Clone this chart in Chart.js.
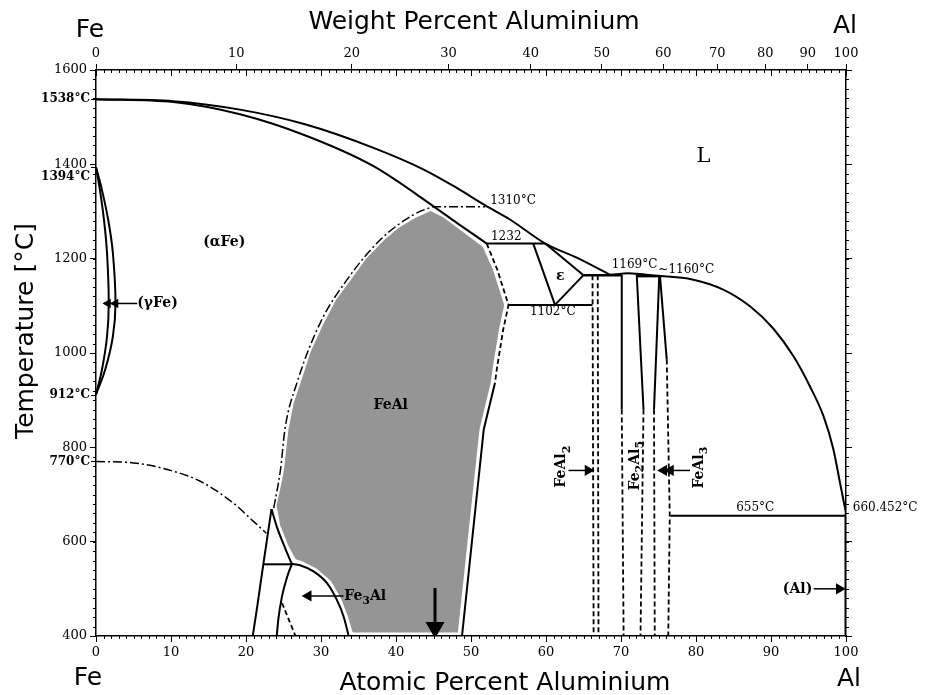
<!DOCTYPE html>
<html>
<head>
<meta charset="utf-8">
<title>Fe-Al phase diagram</title>
<script src="https://cdn.jsdelivr.net/npm/chart.js@4.4.1/dist/chart.umd.min.js"></script>
<style>
  html, body { margin: 0; padding: 0; background: #fff; }
</style>
</head>
<body>
<canvas id="phaseChart" width="925" height="695"></canvas>
<script>
// all curves: [atomic % Al, temperature degC]
const liquidusLeft = [[0,1538],[10.3,1534],[19.2,1516],[28.1,1484],[37,1435],[43.7,1389],[48.1,1350],[51.9,1313],[55.2,1283],[59.9,1232],[64.1,1202],[68.5,1166]];
const liquidusRight = [[68.5,1166],[70.1,1168],[71,1169],[72.1,1168],[75.2,1163],[79.2,1157],[83.7,1134],[87.2,1099],[90.3,1052],[93,993],[95.2,929],[97,866],[98.3,797],[99.2,725],[100,660.452]];
const solidusFe = [[0,1538],[10.3,1532],[19.2,1506],[28.1,1460],[37,1396],[45,1311],[48.1,1276],[52.1,1232]];

const gammaOuter = [[0,1394],[0.67,1354],[1.62,1283],[2.25,1212],[2.6,1106],[2.25,1035],[1.23,965],[0,912]];
const gammaInner = [[0,1394],[0.44,1354],[1.06,1283],[1.47,1212],[1.7,1106],[1.47,1035],[0.8,965],[0,912]];
const curieLine = [[0,770],[5,767],[9.5,753],[13.9,728],[18.3,682],[21,643],[22.7,618]];

const orderB2 = [[23.7,671],[24.6,753],[25.2,839],[26.8,937],[29.9,1064],[33.5,1156],[37.9,1240],[42.3,1293],[44.8,1310]];
const line1310 = [[44.8,1310],[51.9,1310]];
const feAlRightDashed = [[52.1,1232],[53.5,1177],[55,1102],[54.3,1050],[53.5,972],[53.2,937]];
const feAlRightSolid = [[53.2,937],[51.7,838],[48.8,400]];
const feAlField = [[44.6,1304],[46.5,1289],[48.1,1270],[51.7,1227],[53.1,1177],[54.6,1102],[53.9,1050],[53.1,972],[52.8,937],[51.3,838],[48.4,405],[34.1,405],[33.4,442],[32.5,479],[31.2,515],[29.3,541],[27.4,556],[26.5,561],[25.5,590],[24.4,634],[23.9,676],[24.5,720],[24.9,753],[25.5,839],[26.2,895],[27.1,937],[28.5,1005],[30.2,1064],[31.9,1115],[33.8,1156],[35.8,1200],[38.2,1240],[40.3,1268],[42.4,1288],[44.6,1304]];

const d03Left = [[20.9,400],[21.5,463],[22.3,551],[23.4,669]];
const d03Apex = [[23.4,669],[24.1,632],[25.2,587],[26.1,553]];
const line552 = [[22.3,552],[26.1,552]];
const d03Inner = [[24.1,400],[24.3,434],[24.8,484],[25.5,526],[26.1,552]];
const d03B2 = [[26.1,553],[27.2,550],[29,537],[30.8,512],[32.1,477],[33,442],[33.7,400]];
const d03Dash = [[24.8,470],[26.6,400]];

const line1232 = [[52.1,1232],[59.9,1232]];
const line1102 = [[55,1102],[66.2,1102]];
const epsLeft = [[58.3,1232],[61.2,1102]];
const epsLower = [[61.2,1102],[65,1165]];
const epsUpper = [[59.9,1232],[65,1165]];
const eutectic1165 = [[65,1165],[70.1,1165]];
const peritectic1160 = [[72.1,1163],[75.2,1163]];
const line655 = [[76.6,655],[100,655]];
const alSolvus = [[100,660.452],[100,400]];

const feAl2Left = [[66.2,1165],[66.35,400]];
const feAl2Right = [[66.9,1165],[67,400]];
const fe2Al5LeftSolid = [[70.1,1166],[70.1,880]];
const fe2Al5LeftDash = [[70.1,880],[70.35,400]];
const fe2Al5RightSolid = [[72.1,1166],[73,880]];
const fe2Al5RightDash = [[73,880],[72.6,400]];
const feAl3LeftSolid = [[75.1,1163],[74.4,880]];
const feAl3LeftDash = [[74.4,880],[74.5,400]];
const feAl3RightSolid = [[75.2,1163],[76.1,986]];
const feAl3RightDash = [[76.1,986],[76.5,655],[76.3,400]];

// pointer arrows, head on the last point
const arrowGamma = [[5.5,1105],[2.6,1105],[1.6,1105]];
const arrowFe3Al = [[33,485],[28.3,485]];
const arrowDown = [[45.2,502],[45.2,418]];
const arrowFeAl2 = [[63,751],[65.6,751]];
const arrowFeAl3 = [[79.2,751],[76.6,751],[75.7,751]];
const arrowAl = [[95.7,500],[99.1,500]];

// axis ticks
const wtTicks = [0, 10, 20, 30, 40, 50, 60, 70, 80, 90, 100];
const fixedTemps = [1538, 1394, 912, 770];

// weight % Al -> atomic % Al
function wtToAt(w) {
  const al = w / 26.98, fe = (100 - w) / 55.845;
  return 100 * al / (al + fe);
}

const SOLID = [];
const DASHED = [5, 3];
const DASHDOT = [9, 3, 2, 3];

function curve(points, dash, width, smooth) {
  const ds = {
    data: points.map(p => ({x: p[0], y: p[1]})),
    showLine: true,
    borderColor: '#000',
    borderWidth: width || 2,
    borderDash: dash,
    pointRadius: 0,
    tension: 0,
    fill: false
  };
  if (smooth === 'mono') ds.cubicInterpolationMode = 'monotone';
  else if (smooth) ds.tension = smooth;
  return ds;
}

function arrow(points, rot, size, width) {
  const ds = curve(points, SOLID, width || 1.5);
  ds.pointRadius = points.map((p, i) => i === 0 ? 0 : size);
  ds.pointStyle = 'triangle';
  ds.rotation = rot;
  ds.pointBackgroundColor = '#000';
  ds.pointBorderColor = '#000';
  return ds;
}

const field = curve(feAlField, SOLID, 2.5);
field.fill = 'shape';
field.backgroundColor = '#959595';
field.borderColor = '#fff';
field.order = 1;

const datasets = [
  curve(liquidusLeft, SOLID, 2, 'mono'),
  curve(liquidusRight, SOLID, 2, 'mono'),
  curve(solidusFe, SOLID, 2, 'mono'),
  curve(gammaOuter, SOLID, 2, 0.4),
  curve(gammaInner, SOLID, 2, 0.4),
  curve(curieLine, DASHDOT, 1.5, 'mono'),
  curve(orderB2, DASHDOT, 1.5, 'mono'),
  curve(line1310, DASHDOT, 1.5),
  curve(feAlRightDashed, DASHED, 1.8),
  curve(feAlRightSolid, SOLID, 2),
  curve(d03Left, SOLID, 2, 'mono'),
  curve(d03Apex, SOLID, 2, 'mono'),
  curve(line552, SOLID, 2),
  curve(d03Inner, SOLID, 2, 'mono'),
  curve(d03B2, SOLID, 2, 'mono'),
  curve(d03Dash, DASHED, 1.8),
  curve(line1232, SOLID, 2),
  curve(line1102, SOLID, 2),
  curve(epsLeft, SOLID, 2),
  curve(epsLower, SOLID, 2),
  curve(epsUpper, SOLID, 2),
  curve(eutectic1165, SOLID, 2.5),
  curve(peritectic1160, SOLID, 2.5),
  curve(line655, SOLID, 2),
  curve(alSolvus, SOLID, 3),
  curve(feAl2Left, DASHED, 1.8),
  curve(feAl2Right, DASHED, 1.8),
  curve(fe2Al5LeftSolid, SOLID, 2),
  curve(fe2Al5LeftDash, DASHED, 1.8),
  curve(fe2Al5RightSolid, SOLID, 2),
  curve(fe2Al5RightDash, DASHED, 1.8),
  curve(feAl3LeftSolid, SOLID, 2),
  curve(feAl3LeftDash, DASHED, 1.8),
  curve(feAl3RightSolid, SOLID, 2),
  curve(feAl3RightDash, DASHED, 1.8),
  arrow(arrowGamma, 270, 4),
  arrow(arrowFe3Al, 270, 5),
  arrow(arrowDown, 180, 8, 3),
  arrow(arrowFeAl2, 90, 5),
  arrow(arrowFeAl3, 270, 5),
  arrow(arrowAl, 90, 5),
  field
];

// text inside the diagram, at data positions
const notes = [
  {t: ['L'], x: 81, y: 1416, size: 21},
  {t: ['(\u03b1Fe)'], x: 17.1, y: 1235, size: 14, bold: true},
  {t: ['(\u03b3Fe)'], x: 5.5, y: 1105, size: 14, bold: true, align: 'left'},
  {t: ['FeAl'], x: 39.3, y: 888, size: 14, bold: true},
  {t: ['\u03b5'], x: 61.9, y: 1163, size: 14, bold: true},
  {t: ['Fe', ['3'], 'Al'], x: 33.1, y: 485, size: 14, bold: true, align: 'left'},
  {t: ['(Al)'], x: 95.5, y: 498, size: 14, bold: true, align: 'right'},
  {t: ['FeAl', ['2']], x: 62.1, y: 759, size: 14, bold: true, rot: true},
  {t: ['Fe', ['2'], 'Al', ['5']], x: 71.9, y: 761, size: 14, bold: true, rot: true},
  {t: ['FeAl', ['3']], x: 80.4, y: 757, size: 14, bold: true, rot: true},
  {t: ['1310\u00b0C'], x: 55.6, y: 1323, size: 12},
  {t: ['1232'], x: 54.7, y: 1247, size: 12},
  {t: ['1102\u00b0C'], x: 60.9, y: 1087, size: 12},
  {t: ['1169\u00b0C'], x: 71.8, y: 1187, size: 12},
  {t: ['~1160\u00b0C'], x: 78.7, y: 1177, size: 12},
  {t: ['655\u00b0C'], x: 87.9, y: 671, size: 12},
  {t: ['660.452\u00b0C'], x: 100.9, y: 671, size: 12, align: 'left'}
];

function drawRich(ctx, parts, x, y, size, bold, align) {
  const w8 = bold ? 'bold ' : '';
  const main = w8 + size + 'px "DejaVu Serif"';
  const sub = w8 + Math.round(size * 0.75) + 'px "DejaVu Serif"';
  let w = 0;
  parts.forEach(p => {
    ctx.font = Array.isArray(p) ? sub : main;
    w += ctx.measureText(Array.isArray(p) ? p[0] : p).width;
  });
  let cx = align === 'left' ? x : align === 'right' ? x - w : x - w / 2;
  ctx.textAlign = 'left';
  ctx.textBaseline = 'middle';
  parts.forEach(p => {
    const isSub = Array.isArray(p);
    const t = isSub ? p[0] : p;
    ctx.font = isSub ? sub : main;
    ctx.fillText(t, cx, y + (isSub ? size * 0.35 : 0));
    cx += ctx.measureText(t).width;
  });
}

const decor = {
  id: 'decor',
  afterDatasetsDraw(chart) {
    const {ctx, scales: {x, y}} = chart;
    ctx.save();
    ctx.fillStyle = '#000';
    notes.forEach(n => {
      const px = x.getPixelForValue(n.x), py = y.getPixelForValue(n.y);
      if (n.rot) {
        ctx.save();
        ctx.translate(px, py);
        ctx.rotate(-Math.PI / 2);
        drawRich(ctx, n.t, 0, 0, n.size, n.bold, 'center');
        ctx.restore();
      } else {
        drawRich(ctx, n.t, px, py, n.size, n.bold, n.align);
      }
    });
    ctx.restore();
  },
  afterDraw(chart) {
    const {ctx, chartArea: a, scales: {x, y}} = chart;
    ctx.save();
    ctx.strokeStyle = '#000';
    ctx.lineWidth = 1;
    ctx.beginPath();
    for (let v = 0; v <= 100; v++) {
      const px = Math.round(x.getPixelForValue(v)) + 0.5;
      ctx.moveTo(px, a.bottom); ctx.lineTo(px, a.bottom + 3);
      ctx.moveTo(px, a.top); ctx.lineTo(px, a.top + (v % 10 === 0 ? 6 : 3));
    }
    for (let t = 400; t <= 1600; t += 20) {
      const py = Math.round(y.getPixelForValue(t)) + 0.5;
      ctx.moveTo(a.left - 3, py); ctx.lineTo(a.left, py);
      ctx.moveTo(a.right, py); ctx.lineTo(a.right + 3, py);
    }
    fixedTemps.forEach(t => {
      const py = Math.round(y.getPixelForValue(t)) + 0.5;
      ctx.moveTo(a.left - 5, py); ctx.lineTo(a.left, py);
    });
    ctx.stroke();

    // marked temperatures on the Fe side
    ctx.fillStyle = '#000';
    ctx.font = 'bold 12px "DejaVu Serif"';
    ctx.textAlign = 'right';
    ctx.textBaseline = 'middle';
    fixedTemps.forEach(t => {
      const shift = t === 1394 ? 10 : 0;
      ctx.fillText(t + '\u00b0C', a.left - 6, y.getPixelForValue(t) + shift);
    });

    // titles and element names
    ctx.font = '25px "DejaVu Sans"';
    ctx.textBaseline = 'alphabetic';
    ctx.textAlign = 'center';
    ctx.fillText('Weight Percent Aluminium', 474, 29);
    ctx.fillText('Atomic Percent Aluminium', 505, 690);
    ctx.fillText('Fe', 90, 37);
    ctx.fillText('Al', 845, 33);
    ctx.fillText('Fe', 88, 685);
    ctx.fillText('Al', 849, 686);
    ctx.save();
    ctx.translate(33, 331);
    ctx.rotate(-Math.PI / 2);
    ctx.fillText('Temperature [\u00b0C]', 0, 0);
    ctx.restore();
    ctx.restore();
  }
};

const tickFont = {family: 'DejaVu Serif', size: 13};
const axisGrid = {drawOnChartArea: false, color: '#000', tickLength: 6, lineWidth: 1};
const axisBorder = {display: true, color: '#000', width: 1.5};

new Chart(document.getElementById('phaseChart'), {
  type: 'scatter',
  data: {datasets: datasets},
  options: {
    responsive: false,
    animation: false,
    devicePixelRatio: 1,
    layout: {padding: 0},
    plugins: {legend: {display: false}, tooltip: {enabled: false}},
    scales: {
      x: {
        type: 'linear', position: 'bottom', min: 0, max: 100,
        ticks: {stepSize: 10, color: '#000', font: tickFont, padding: 3, maxRotation: 0,
          callback: v => String(v)},
        grid: axisGrid, border: axisBorder,
        afterFit: s => { s.height = 59; }
      },
      x2: {
        type: 'linear', position: 'top', min: 0, max: 100,
        afterBuildTicks: s => { s.ticks = wtTicks.map(w => ({value: wtToAt(w)})); },
        ticks: {autoSkip: false, maxRotation: 0, color: '#000', font: tickFont, padding: 3,
          callback: (v, i) => String(wtTicks[i])},
        grid: axisGrid, border: axisBorder,
        afterFit: s => { s.height = 70; }
      },
      y: {
        type: 'linear', position: 'left', min: 400, max: 1600,
        ticks: {stepSize: 200, color: '#000', font: tickFont, padding: 3,
          callback: v => String(v)},
        grid: axisGrid, border: axisBorder,
        afterFit: s => { s.width = 96; }
      },
      y2: {
        type: 'linear', position: 'right', min: 400, max: 1600,
        ticks: {stepSize: 200, display: false},
        grid: axisGrid, border: axisBorder,
        afterFit: s => { s.width = 79; }
      }
    }
  },
  plugins: [decor]
});
</script>
</body>
</html>
